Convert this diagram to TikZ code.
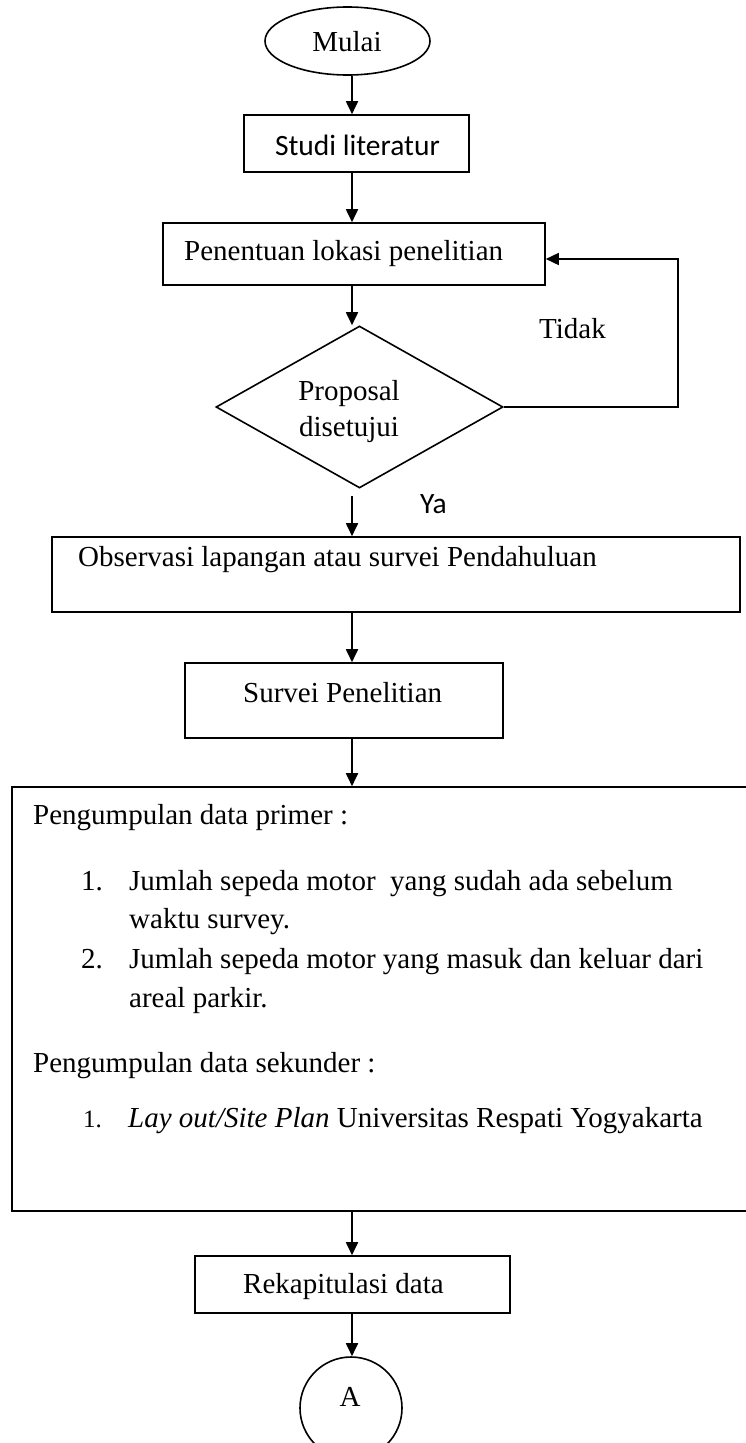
\documentclass[tikz,border=0pt]{standalone}
\usepackage{fontspec}
\setmainfont{Liberation Serif}
\newfontfamily\calfont{Carlito}
\usetikzlibrary{shapes.geometric,arrows.meta}
\begin{document}
\begin{tikzpicture}[x=1pt,y=-1pt,
  box/.style={draw, line width=1.6pt, rectangle, inner sep=0pt},
  ell/.style={draw, line width=1.6pt, ellipse, inner sep=0pt},
  dec/.style={draw, line width=1.6pt, diamond, inner sep=0pt},
  txt/.style={inner sep=0pt, font=\fontsize{29}{35}\selectfont},
  ctxt/.style={inner sep=0pt, font=\calfont\fontsize{29.5}{35}\selectfont},
  arr/.style={line width=1.8pt, -{Triangle[length=13pt,width=12pt]}},
  lnk/.style={line width=1.6pt, -{Triangle[length=13pt,width=12pt]}}]
\useasboundingbox (0,0) rectangle (746,1443);
\clip (0,0) rectangle (746,1443);
\coordinate (ax) at (352,0);
% start
\node[ell, minimum width=165pt, minimum height=68pt] (mulai) at (347.5,41) {};
\node[txt, anchor=base] (mulait) at (347,51) {Mulai};
% studi
\node[box, minimum width=225pt, minimum height=57pt] (studi) at (356.5,143.5) {};
\node[ctxt, anchor=base] (studit) at (357.5,155) {Studi literatur};
% penentuan
\node[box, minimum width=382pt, minimum height=62pt] (pen) at (354,254) {};
\node[txt, anchor=base west] (pent) at (184,260) {Penentuan lokasi penelitian};
% decision
\node[dec, minimum width=287pt, minimum height=162pt] (dia) at (359.5,407) {};
\node[txt, anchor=base] (diat1) at (349,400) {Proposal};
\node[txt, anchor=base] (diat2) at (349,436) {disetujui};
\node[txt, anchor=base west] (tidak) at (539,338) {Tidak};
\node[ctxt, anchor=base west] (ya) at (420,513) {Ya};
% observasi
\node[box, minimum width=688pt, minimum height=75pt] (obs) at (396,574.5) {};
\node[txt, anchor=base west] (obst) at (78,566) {Observasi lapangan atau survei Pendahuluan};
% survei
\node[box, minimum width=318pt, minimum height=75pt] (surv) at (344,700.5) {};
\node[txt, anchor=base west] (survt) at (243,702) {Survei Penelitian};
% big box
\node[box, minimum width=748pt, minimum height=424pt] (big) at (386,999) {};
\node[txt, anchor=base west] (p1) at (33,824) {Pengumpulan data primer :};
\node[txt, anchor=base west] (n1) at (81,890) {1.};
\node[txt, anchor=base west] (i1a) at (129,890) {Jumlah sepeda motor\ \ yang sudah ada sebelum};
\node[txt, anchor=base west] (i1b) at (129,928) {waktu survey.};
\node[txt, anchor=base west] (n2) at (81,968) {2.};
\node[txt, anchor=base west] (i2a) at (129,968) {Jumlah sepeda motor yang masuk dan keluar dari};
\node[txt, anchor=base west] (i2b) at (129,1007) {areal parkir.};
\node[txt, anchor=base west] (p2) at (33,1072) {Pengumpulan data sekunder :};
\node[txt, anchor=base west, font=\fontsize{25}{30}\selectfont] (n3) at (83,1127) {1.};
\node[txt, anchor=base west] (i3) at (128,1127) {\textit{Lay out/Site Plan} Universitas Respati Yogyakarta};
% rekap
\node[box, minimum width=315pt, minimum height=57pt] (rek) at (352.5,1284.5) {};
\node[txt, anchor=base west] (rekt) at (243,1293) {Rekapitulasi data};
% connector A
\node[ell, minimum width=102pt, minimum height=102pt] (conA) at (351,1408) {};
\node[txt, anchor=base] (conAt) at (350,1406) {A};
% arrows
\coordinate (yes) at (352,496);
\coordinate (lp1) at (678,407);
\coordinate (lp2) at (678,259);
\draw[arr] (mulai.south -| ax) -- (studi.north -| ax);
\draw[arr] (studi.south -| ax) -- (pen.north -| ax);
\draw[arr] (pen.south -| ax) -- (ax |- dia.north);
\draw[arr] (yes) -- (obs.north -| ax);
\draw[arr] (obs.south -| ax) -- (surv.north -| ax);
\draw[arr] (surv.south -| ax) -- (big.north -| ax);
\draw[arr] (big.south -| ax) -- (rek.north -| ax);
\draw[arr] (rek.south -| ax) -- (conA.north -| ax);
\draw[lnk] (dia.east) -- (lp1) -- (lp2) -- (pen.east |- lp2);
\end{tikzpicture}
\end{document}
